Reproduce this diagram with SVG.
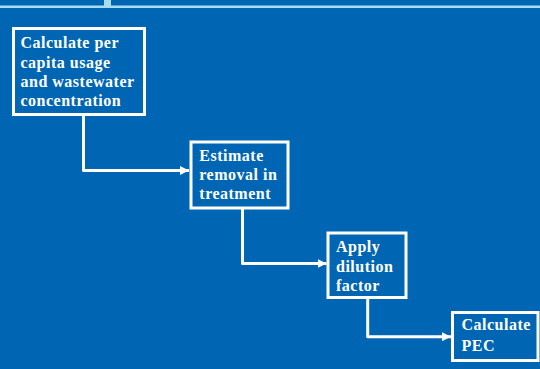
<svg xmlns="http://www.w3.org/2000/svg" width="540" height="369" viewBox="0 0 540 369">
<style>
.box{fill:none;stroke:#ffffff;stroke-width:3}
.conn{fill:none;stroke:#ffffff;stroke-width:3;stroke-linejoin:round}
.t{font-family:"Liberation Serif","Times New Roman",serif;font-weight:bold;font-size:16px;letter-spacing:0.5px;fill:#ffffff}
</style>
<defs>
<marker id="arr" markerWidth="9" markerHeight="9" refX="9" refY="4.5" orient="auto" markerUnits="userSpaceOnUse">
<path d="M0,0 L9,4.5 L0,9 Z" fill="#ffffff"/>
</marker>
</defs>
<rect width="540" height="369" fill="#0066b3"/>
<rect x="0" y="5.5" width="540" height="2.5" fill="#a8dcef"/>
<rect x="104" y="0" width="7" height="6" fill="#a8dcef"/>
<g id="connectors">
<path class="conn" d="M83.5,116 V170.5 H189" marker-end="url(#arr)"/>
<path class="conn" d="M242.5,209 V263.5 H326.5" marker-end="url(#arr)"/>
<path class="conn" d="M367.7,299 V336.7 H451" marker-end="url(#arr)"/>
</g>
<g id="n1">
<rect class="box" x="13.5" y="28.5" width="131" height="86"/>
<text class="t" x="20.5" y="48.3">Calculate per</text>
<text class="t" x="20.5" y="67.5">capita usage</text>
<text class="t" x="20.5" y="86.7">and wastewater</text>
<text class="t" x="20.5" y="105.9">concentration</text>
</g>
<g id="n2">
<rect class="box" x="191" y="142" width="97" height="66"/>
<text class="t" x="199.3" y="160.7">Estimate</text>
<text class="t" x="199.3" y="179.9">removal in</text>
<text class="t" x="199.3" y="199.1">treatment</text>
</g>
<g id="n3">
<rect class="box" x="328" y="233" width="78" height="64.5"/>
<text class="t" x="336" y="252.3">Apply</text>
<text class="t" x="336" y="271.5">dilution</text>
<text class="t" x="336" y="290.7">factor</text>
</g>
<g id="n4">
<rect class="box" x="452.5" y="312.5" width="85.5" height="48"/>
<text class="t" x="461.5" y="329.5">Calculate</text>
<text class="t" x="461.5" y="350.7">PEC</text>
</g>
</svg>
